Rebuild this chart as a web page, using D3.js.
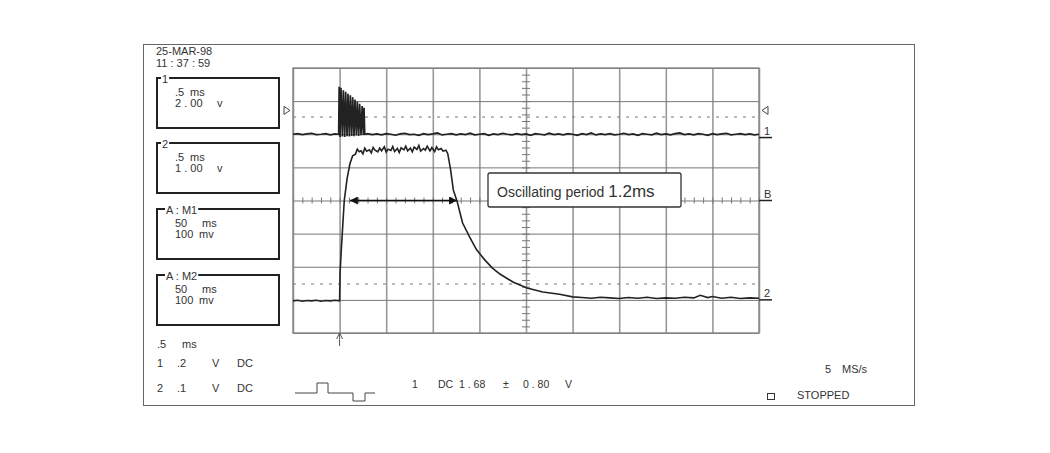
<!DOCTYPE html>
<html>
<head>
<meta charset="utf-8">
<script src="https://cdn.jsdelivr.net/npm/d3@7"></script>
<style>
  body { margin: 0; background: #fff; }
  svg text { font-family: "Liberation Sans", Arial, sans-serif; fill: #333; }
</style>
</head>
<body>
<div id="container"></div>
<script>
// scope settings: 0.5 ms/div, 10 x 8 graticule
const timeTicks = d3.range(0, 5.001, 0.5);
const levelTicks = d3.range(0, 8.001, 1);
const minorTime = d3.range(0, 5.001, 0.1);
const minorLevel = d3.range(0, 8.001, 0.2);
const refLevels = [6.52, 1.48];      // dashed trigger level lines
const trigTime = 0.5;
const period = [0.61, 1.76];         // oscillating period arrow (ms)
const periodLevel = 4.0;

// channel 1 (time ms, level div)
const ch1 = [[0.00,6.00],[0.05,6.02],[0.10,5.99],[0.15,6.01],[0.20,6.03],[0.25,5.99],[0.30,6.00],[0.35,6.02],[0.40,5.98],[0.45,6.01],[0.49,6.00],
  [0.495,7.43],[0.505,5.92],[0.515,7.40],[0.53,5.93],[0.54,7.33],[0.555,5.92],[0.565,7.28],[0.58,5.94],[0.59,7.22],[0.605,5.93],
  [0.615,7.18],[0.63,5.95],[0.64,7.12],[0.655,5.94],[0.665,7.05],[0.68,5.96],[0.69,6.98],[0.705,5.95],[0.715,6.92],[0.73,5.97],
  [0.742,6.85],[0.755,5.98],[0.762,6.80],[0.77,6.00],
  [0.80,6.02],[0.85,5.99],[0.90,6.01],[0.95,5.98],[1.00,6.02],[1.05,6.00],[1.10,5.97],[1.15,6.01],[1.20,6.03],[1.25,5.99],[1.30,6.00],[1.35,5.97],
  [1.40,6.02],[1.45,5.99],[1.50,6.01],[1.55,6.04],[1.60,5.98],[1.65,6.00],[1.70,6.02],[1.75,5.98],[1.80,6.01],[1.85,5.99],[1.90,6.03],[1.95,5.98],
  [2.00,6.00],[2.05,6.02],[2.10,5.97],[2.15,6.01],[2.20,5.99],[2.25,6.03],[2.30,6.00],[2.35,5.98],[2.40,6.02],[2.45,5.99],[2.50,6.01],[2.55,5.97],
  [2.60,6.02],[2.65,6.00],[2.70,5.98],[2.75,6.03],[2.80,5.99],[2.85,6.01],[2.90,5.98],[2.95,6.02],[3.00,6.00],[3.05,5.97],[3.10,6.02],[3.15,5.99],
  [3.20,6.04],[3.25,5.98],[3.30,6.01],[3.35,5.99],[3.40,6.02],[3.45,5.98],[3.50,6.00],[3.55,6.03],[3.60,5.99],[3.65,6.01],[3.70,5.97],[3.75,6.02],
  [3.80,6.00],[3.85,5.98],[3.90,6.03],[3.95,5.99],[4.00,6.01],[4.05,5.98],[4.10,6.02],[4.15,6.04],[4.20,5.99],[4.25,6.01],[4.30,5.98],[4.35,6.02],
  [4.40,6.00],[4.45,5.97],[4.50,6.02],[4.55,5.99],[4.60,6.01],[4.65,6.03],[4.70,5.98],[4.75,6.00],[4.80,6.02],[4.85,5.99],[4.90,6.01],[4.95,5.98],[5.00,6.00]];

// channel 2 (time ms, level div)
const ch2 = [[0.00,0.97],[0.05,0.99],[0.10,0.96],[0.15,0.98],[0.20,0.97],[0.25,0.99],[0.30,0.96],[0.35,0.98],[0.40,0.97],[0.45,0.99],[0.50,0.97],
  [0.505,1.81],[0.52,2.60],[0.55,4.00],[0.58,4.65],[0.61,5.10],[0.64,5.35],
  [0.67,5.40],[0.69,5.55],[0.71,5.47],[0.73,5.50],[0.75,5.41],[0.77,5.58],[0.79,5.49],[0.82,5.53],[0.84,5.44],[0.86,5.60],[0.88,5.52],[0.91,5.47],
  [0.93,5.58],[0.95,5.50],[0.98,5.62],[1.00,5.46],[1.02,5.55],[1.05,5.51],[1.07,5.63],[1.09,5.48],[1.12,5.57],[1.14,5.45],[1.16,5.59],[1.19,5.53],
  [1.21,5.64],[1.23,5.50],[1.26,5.58],[1.28,5.47],[1.30,5.61],[1.33,5.54],[1.35,5.66],[1.37,5.49],[1.40,5.57],[1.42,5.52],[1.44,5.64],[1.47,5.50],
  [1.49,5.60],[1.52,5.48],[1.54,5.62],[1.56,5.53],[1.59,5.57],[1.61,5.49],[1.64,5.52],
  [1.66,5.42],[1.69,4.95],[1.72,4.32],[1.76,3.98],[1.82,3.32],[1.90,2.87],[1.97,2.51],[2.06,2.20],[2.14,1.96],[2.22,1.78],[2.36,1.54],[2.51,1.36],
  [2.68,1.24],[2.86,1.17],[3.00,1.09],[3.10,1.07],[3.20,1.05],[3.30,1.08],[3.40,1.06],[3.50,1.04],[3.60,1.07],[3.70,1.05],[3.80,1.08],[3.90,1.04],
  [4.00,1.06],[4.10,1.05],[4.20,1.08],[4.30,1.06],[4.37,1.14],[4.45,1.07],[4.50,1.10],[4.60,1.05],[4.70,1.08],[4.80,1.04],[4.90,1.06],[5.00,1.05]];

// side panel text
const stamp = ["25-MAR-98", "11 : 37 : 59"];
const boxes = [
  { label: "1", rows: [[".5", "ms"], ["2 . 00", "v"]] },
  { label: "2", rows: [[".5", "ms"], ["1 . 00", "v"]] },
  { label: "A : M1", rows: [["50", "ms"], ["100", "mv"]] },
  { label: "A : M2", rows: [["50", "ms"], ["100", "mv"]] }
];
const chanRows = [["1", ".2", "V", "DC"], ["2", ".1", "V", "DC"]];
const trigText = ["1", "DC", "1 . 68", "±", "0 . 80", "V"];

const width = 1050, height = 453;
const fs = 11;
const svg = d3.select("#container").append("svg")
  .attr("width", width).attr("height", height);

const x = d3.scaleLinear().domain([0, 5]).range([293, 759]);
const y = d3.scaleLinear().domain([0, 8]).range([333, 68]);

// outer frame
svg.append("rect").attr("x", 143.5).attr("y", 44.5).attr("width", 771).attr("height", 361)
  .attr("fill", "none").attr("stroke", "#666").attr("stroke-width", 1);

// graticule
const gx = svg.append("g").attr("transform", `translate(0,${y(0)})`)
  .call(d3.axisBottom(x).tickValues(timeTicks).tickSize(-(y(0) - y(8))).tickFormat(""));
gx.select(".domain").remove();
gx.selectAll("line").attr("stroke", "#999").attr("stroke-width", 1.6);

const gy = svg.append("g").attr("transform", `translate(${x(0)},0)`)
  .call(d3.axisLeft(y).tickValues(levelTicks).tickSize(-(x(5) - x(0))).tickFormat(""));
gy.select(".domain").remove();
gy.selectAll("line").attr("stroke", "#777").attr("stroke-width", 1);

// center minor ticks
[d3.axisTop, d3.axisBottom].forEach(ax => {
  const g = svg.append("g").attr("transform", `translate(0,${y(4)})`)
    .call(ax(x).tickValues(minorTime).tickSize(3).tickFormat(""));
  g.select(".domain").remove();
  g.selectAll("line").attr("stroke", "#777");
});
[d3.axisLeft, d3.axisRight].forEach(ax => {
  const g = svg.append("g").attr("transform", `translate(${x(2.5)},0)`)
    .call(ax(y).tickValues(minorLevel).tickSize(4).tickFormat(""));
  g.select(".domain").remove();
  g.selectAll("line").attr("stroke", "#777");
});

svg.append("rect").attr("x", x(0)).attr("y", y(8)).attr("width", x(5) - x(0)).attr("height", y(0) - y(8))
  .attr("fill", "none").attr("stroke", "#888").attr("stroke-width", 1.4);

// dashed trigger levels
svg.selectAll(".ref").data(refLevels).enter().append("line")
  .attr("x1", x(0)).attr("x2", x(5)).attr("y1", d => y(d)).attr("y2", d => y(d))
  .attr("stroke", "#777").attr("stroke-dasharray", "3,6");

// traces
const line = d3.line().x(d => x(d[0])).y(d => y(d[1]));
svg.append("path").datum(ch1).attr("d", line)
  .attr("fill", "none").attr("stroke", "#222").attr("stroke-width", 1.7);
svg.append("path").datum(ch2).attr("d", line)
  .attr("fill", "none").attr("stroke", "#222").attr("stroke-width", 1.6);

// markers at right edge
const marks = [{ t: "1", v: 5.9 }, { t: "B", v: periodLevel }, { t: "2", v: 1.0 }];
marks.forEach(m => {
  svg.append("line").attr("x1", x(5)).attr("x2", x(5) + 13).attr("y1", y(m.v)).attr("y2", y(m.v))
    .attr("stroke", "#222").attr("stroke-width", 1.5);
  svg.append("text").attr("x", x(5) + 5).attr("y", y(m.v) - 3).attr("font-size", fs).text(m.t);
});

// trigger level triangles
const tl = 6.72;
svg.append("path").attr("d", `M${x(0) - 9},${y(tl) - 4}L${x(0) - 3},${y(tl)}L${x(0) - 9},${y(tl) + 4}Z`)
  .attr("fill", "none").attr("stroke", "#444");
svg.append("path").attr("d", `M${x(5) + 9},${y(tl) - 4}L${x(5) + 3},${y(tl)}L${x(5) + 9},${y(tl) + 4}Z`)
  .attr("fill", "none").attr("stroke", "#444");

// trigger position arrow
svg.append("line").attr("x1", x(trigTime)).attr("x2", x(trigTime)).attr("y1", y(0)).attr("y2", y(0) + 13)
  .attr("stroke", "#555");
svg.append("path").attr("d", `M${x(trigTime) - 3},${y(0) + 6}L${x(trigTime)},${y(0)}L${x(trigTime) + 3},${y(0) + 6}`)
  .attr("fill", "none").attr("stroke", "#555");

// period arrow
const defs = svg.append("defs");
["start", "end"].forEach(k => {
  defs.append("marker").attr("id", "ah-" + k).attr("viewBox", "0 0 10 10")
    .attr("refX", 10).attr("refY", 5).attr("markerWidth", 11).attr("markerHeight", 8)
    .attr("markerUnits", "userSpaceOnUse").attr("orient", k === "end" ? "auto" : "auto-start-reverse")
    .append("path").attr("d", "M0,0L10,5L0,10Z").attr("fill", "#111");
});
svg.append("line").attr("x1", x(period[0])).attr("x2", x(period[1]))
  .attr("y1", y(periodLevel)).attr("y2", y(periodLevel))
  .attr("stroke", "#111").attr("stroke-width", 1.6)
  .attr("marker-start", "url(#ah-start)").attr("marker-end", "url(#ah-end)");

// annotation box
svg.append("rect").attr("x", 488).attr("y", 173).attr("width", 193).attr("height", 34).attr("rx", 2)
  .attr("fill", "#fff").attr("stroke", "#333").attr("stroke-width", 1.3);
const ann = svg.append("text").attr("x", 497).attr("y", 197).attr("font-size", 14);
ann.append("tspan").text("Oscillating period ");
ann.append("tspan").attr("font-size", 17).text("1.2ms");

// side panel
svg.selectAll(".stamp").data(stamp).enter().append("text")
  .attr("x", 156).attr("y", (d, i) => 55 + i * 12).attr("font-size", fs).text(d => d);

const boxTops = [78, 143, 209, 275];
boxes.forEach((b, i) => {
  const top = boxTops[i];
  const g = svg.append("g");
  g.append("rect").attr("x", 157).attr("y", top).attr("width", 122).attr("height", 50)
    .attr("fill", "none").attr("stroke", "#222").attr("stroke-width", 2);
  const knock = g.append("rect").attr("fill", "#fff");
  const lx = b.label.length > 1 ? 166 : 162;
  const lbl = g.append("text").attr("x", lx).attr("y", top + 5).attr("font-size", fs).text(b.label);
  const bb = lbl.node().getBBox();
  knock.attr("x", bb.x - 1).attr("y", top - 2).attr("width", bb.width + 2).attr("height", 4);
  b.rows.forEach((r, j) => {
    g.append("text").attr("x", 175).attr("y", top + 18 + j * 11).attr("font-size", fs).text(r[0]);
    g.append("text").attr("x", i < 2 ? (j === 0 ? 190 : 217) : (j === 0 ? 202 : 199))
      .attr("y", top + 18 + j * 11).attr("font-size", fs).text(r[1]);
  });
});

// bottom status lines
svg.append("text").attr("x", 157).attr("y", 348).attr("font-size", fs).text(".5");
svg.append("text").attr("x", 182).attr("y", 348).attr("font-size", fs).text("ms");
const colX = [157, 177, 212, 237];
chanRows.forEach((r, i) => {
  r.forEach((c, k) => {
    svg.append("text").attr("x", colX[k]).attr("y", 367 + i * 25).attr("font-size", fs).text(c);
  });
});

// trigger slope glyph
svg.append("path").attr("d", "M295,393H317V383H328V393H353V401H365V393H375")
  .attr("fill", "none").attr("stroke", "#444");

const trigX = [412, 438, 459, 503, 523, 565];
trigText.forEach((c, k) => {
  svg.append("text").attr("x", trigX[k]).attr("y", 388).attr("font-size", 10.5).text(c);
});

svg.append("text").attr("x", 825).attr("y", 373).attr("font-size", fs).text("5");
svg.append("text").attr("x", 842).attr("y", 373).attr("font-size", fs).text("MS/s");
svg.append("rect").attr("x", 767.5).attr("y", 393.5).attr("width", 7).attr("height", 6)
  .attr("fill", "none").attr("stroke", "#333");
svg.append("text").attr("x", 797).attr("y", 399).attr("font-size", fs).text("STOPPED");
</script>
</body>
</html>
